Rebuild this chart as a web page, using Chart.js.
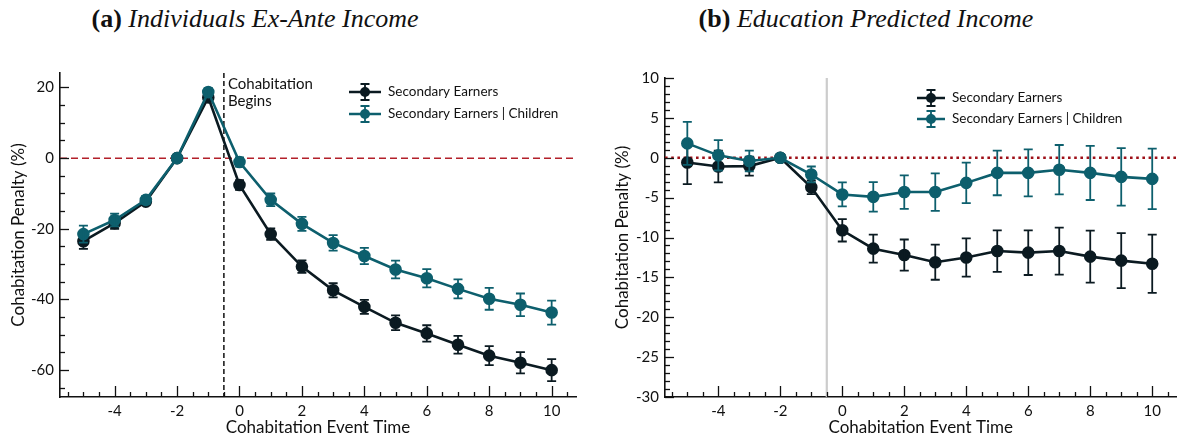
<!DOCTYPE html>
<html>
<head>
<meta charset="utf-8">
<script src="https://cdn.jsdelivr.net/npm/chart.js@4.4.1/dist/chart.umd.min.js"></script>
<style>
  html, body { margin: 0; padding: 0; background: #fff; }
  body { width: 1184px; height: 441px; position: relative; overflow: hidden; }
  canvas { position: absolute; top: 0; }
  .ttl { position: absolute; top: 4px; font-family: "Liberation Serif", serif; font-size: 26px; color: #111; text-align: center; white-space: nowrap; }
  .ttl b { font-weight: bold; font-style: normal; }
  .ttl i { font-style: italic; }
</style>
</head>
<body>
<div id="ta" class="ttl" style="left:55px;width:400px"></div>
<div id="tb" class="ttl" style="left:666px;width:400px"></div>
<canvas id="ca" width="592" height="441" style="left:0"></canvas>
<canvas id="cb" width="592" height="441" style="left:592px"></canvas>
<script>
// ---------- data ----------
const eventTime = [-5, -4, -3, -2, -1, 0, 1, 2, 3, 4, 5, 6, 7, 8, 9, 10];
const seriesLabels = ['Secondary Earners', 'Secondary Earners | Children'];

// Panel (a): Individuals Ex-Ante Income
const aSecondary    = [-23.5, -18.4, -12.3, 0, 17.2, -7.6, -21.5, -30.7, -37.4, -42.1, -46.6, -49.6, -52.8, -55.9, -57.9, -60.0];
const aSecondaryErr = [2.2, 1.6, 1.0, 0, 1.0, 1.4, 1.65, 1.75, 2.0, 2.0, 2.1, 2.3, 2.5, 2.7, 3.0, 3.1];
const aChildren     = [-21.5, -17.5, -11.8, 0, 18.7, -1.1, -11.8, -18.6, -24.0, -27.7, -31.5, -34.0, -37.0, -39.8, -41.5, -43.7];
const aChildrenErr  = [2.4, 1.8, 1.1, 0, 1.1, 1.3, 1.8, 2.0, 2.2, 2.3, 2.5, 2.6, 2.7, 3.1, 3.2, 3.4];

// Panel (b): Education Predicted Income
const bSecondary    = [-0.6, -1.1, -1.05, 0, -3.7, -9.1, -11.4, -12.2, -13.1, -12.5, -11.7, -11.9, -11.7, -12.4, -12.9, -13.3];
const bSecondaryErr = [2.7, 2.0, 1.2, 0, 0.85, 1.4, 1.75, 1.95, 2.2, 2.4, 2.6, 2.8, 2.95, 3.25, 3.45, 3.65];
const bChildren     = [1.8, 0.3, -0.4, 0, -2.1, -4.6, -4.9, -4.3, -4.3, -3.15, -1.9, -1.9, -1.5, -1.9, -2.4, -2.65];
const bChildrenErr  = [2.7, 1.9, 1.3, 0, 1.0, 1.5, 1.85, 2.1, 2.35, 2.55, 2.8, 2.95, 3.1, 3.4, 3.6, 3.8];

const xTicks  = [-4, -2, 0, 2, 4, 6, 8, 10];
const yTicksA = [-60, -40, -20, 0, 20];
const yTicksB = [-30, -25, -20, -15, -10, -5, 0, 5, 10];

const titleA = ['(a)', 'Individuals Ex-Ante Income'];
const titleB = ['(b)', 'Education Predicted Income'];
const xTitle = 'Cohabitation Event Time';
const yTitle = 'Cohabitation Penalty (%)';
const eventNote = ['Cohabitation', 'Begins'];

// ---------- style ----------
const C_BLACK = '#0b1a21';
const C_TEAL  = '#0d5f6d';
const FONT = 'Lato, "Open Sans", sans-serif';

function setTitle(id, t) {
  const el = document.getElementById(id);
  const b = document.createElement('b'); b.textContent = t[0];
  const i = document.createElement('i'); i.textContent = t[1];
  el.appendChild(b); el.appendChild(document.createTextNode(' ')); el.appendChild(i);
}
setTitle('ta', titleA);
setTitle('tb', titleB);

function pts(vals) { return eventTime.map((x, i) => ({ x: x, y: vals[i] })); }

const panelPlugin = {
  id: 'panel',
  beforeDatasetsDraw(chart, args, o) {
    const ctx = chart.ctx, ca = chart.chartArea, xs = chart.scales.x, ys = chart.scales.y;
    ctx.save();
    const vx = xs.getPixelForValue(o.eventX);
    ctx.beginPath();
    ctx.strokeStyle = o.vColor; ctx.lineWidth = o.vWidth; ctx.setLineDash(o.vDash);
    ctx.moveTo(vx, o.vTop != null ? ys.getPixelForValue(o.vTop) : ca.top);
    ctx.lineTo(vx, ca.bottom);
    ctx.stroke();
    const zy = ys.getPixelForValue(0);
    ctx.beginPath();
    ctx.strokeStyle = o.hColor; ctx.lineWidth = o.hWidth; ctx.setLineDash(o.hDash);
    ctx.moveTo(ca.left, zy); ctx.lineTo(ca.right, zy);
    ctx.stroke();
    ctx.restore();
  },
  afterDatasetDraw(chart, args, o) {
    const ds = chart.data.datasets[args.index];
    const errs = ds.errors;
    if (!errs) return;
    const ctx = chart.ctx, xs = chart.scales.x, ys = chart.scales.y;
    ctx.save();
    ctx.strokeStyle = ds.borderColor; ctx.lineWidth = 1.8; ctx.setLineDash([]);
    ds.data.forEach((p, i) => {
      const e = errs[i];
      if (!e) return;
      const px = xs.getPixelForValue(p.x);
      const y1 = ys.getPixelForValue(p.y + e), y2 = ys.getPixelForValue(p.y - e);
      ctx.beginPath();
      ctx.moveTo(px, y1); ctx.lineTo(px, y2);
      ctx.moveTo(px - 4.5, y1); ctx.lineTo(px + 4.5, y1);
      ctx.moveTo(px - 4.5, y2); ctx.lineTo(px + 4.5, y2);
      ctx.stroke();
    });
    ctx.restore();
  },
  afterDraw(chart, args, o) {
    const ctx = chart.ctx, ca = chart.chartArea, xs = chart.scales.x, ys = chart.scales.y;
    ctx.save();
    ctx.strokeStyle = '#111'; ctx.lineWidth = 1.3; ctx.setLineDash([]);
    for (let k = Math.ceil(xs.min * 2); k <= Math.floor(xs.max * 2); k++) {
      const v = k / 2;
      const px = Math.round(xs.getPixelForValue(v)) + 0.5;
      const len = xTicks.includes(v) ? 11 : 5;
      ctx.beginPath(); ctx.moveTo(px, ca.bottom); ctx.lineTo(px, ca.bottom - len); ctx.stroke();
    }
    const ms = o.yMinor;
    for (let v = Math.ceil(ys.min / ms) * ms; v <= ys.max + 1e-9; v += ms) {
      const py = Math.round(ys.getPixelForValue(v)) + 0.5;
      const len = o.yMajor.includes(v) ? 9 : 5;
      ctx.beginPath(); ctx.moveTo(ca.left, py); ctx.lineTo(ca.left + len, py); ctx.stroke();
    }
    if (o.note) {
      ctx.fillStyle = '#111'; ctx.font = '15px ' + FONT; ctx.textBaseline = 'middle'; ctx.textAlign = 'left';
      const nx = xs.getPixelForValue(o.eventX) + 4;
      o.note.forEach((t, i) => ctx.fillText(t, nx, o.noteY + i * 17));
    }
    const L = o.legend;
    chart.data.datasets.slice().sort((a, b) => a.legendIndex - b.legendIndex).forEach((ds, i) => {
      const y = L.y + i * L.gap;
      const x0 = L.x, x1 = L.x + L.w, xc = (x0 + x1) / 2;
      ctx.strokeStyle = ds.borderColor; ctx.fillStyle = ds.borderColor;
      ctx.lineWidth = 2.5;
      ctx.beginPath(); ctx.moveTo(x0, y); ctx.lineTo(x1, y); ctx.stroke();
      ctx.lineWidth = 1.8;
      ctx.beginPath();
      ctx.moveTo(xc, y - 8); ctx.lineTo(xc, y + 8);
      ctx.moveTo(xc - 4.5, y - 8); ctx.lineTo(xc + 4.5, y - 8);
      ctx.moveTo(xc - 4.5, y + 8); ctx.lineTo(xc + 4.5, y + 8);
      ctx.stroke();
      ctx.beginPath(); ctx.arc(xc, y, 5, 0, Math.PI * 2); ctx.fill();
      ctx.fillStyle = '#111'; ctx.font = '13.5px ' + FONT; ctx.textBaseline = 'middle'; ctx.textAlign = 'left';
      ctx.fillText(ds.label, x1 + 7, y);
    });
    ctx.restore();
  }
};

function makeChart(id, sec, secErr, chi, chiErr, cfg) {
  const ds = (label, vals, errs, color, order, li) => ({
    label: label, data: pts(vals), errors: errs, legendIndex: li,
    borderColor: color, backgroundColor: color, pointBackgroundColor: color, pointBorderColor: color,
    borderWidth: 2.6, pointRadius: 5, pointHoverRadius: 5, tension: 0, order: order, fill: false
  });
  return new Chart(document.getElementById(id), {
    type: 'line',
    data: { datasets: [
      ds(seriesLabels[0], sec, secErr, C_BLACK, 1, 0),
      ds(seriesLabels[1], chi, chiErr, C_TEAL, 0, 1)
    ] },
    options: {
      responsive: false, animation: false, devicePixelRatio: 1,
      layout: { padding: { top: cfg.top, right: cfg.right, left: 0, bottom: 0 } },
      plugins: { legend: { display: false }, tooltip: { enabled: false }, panel: cfg.panel },
      scales: {
        x: {
          type: 'linear', min: cfg.xMin, max: cfg.xMax,
          afterBuildTicks: s => { s.ticks = xTicks.map(v => ({ value: v })); },
          afterFit: s => { s.height = 44; },
          grid: { display: false, drawTicks: false },
          border: { display: true, color: '#111', width: 1.6 },
          ticks: { color: '#111', font: { family: FONT, size: 15 }, padding: 5, maxRotation: 0 },
          title: { display: true, text: xTitle, color: '#111', font: { family: FONT, size: 17 }, padding: { top: 0, bottom: 3 } }
        },
        y: {
          type: 'linear', min: cfg.yMin, max: cfg.yMax,
          afterBuildTicks: s => { s.ticks = cfg.yTicks.map(v => ({ value: v })); },
          afterFit: s => { s.width = cfg.yWidth; },
          grid: { display: false, drawTicks: false },
          border: { display: true, color: '#111', width: 1.6 },
          ticks: { color: '#111', font: { family: FONT, size: 15 }, padding: 6 },
          title: { display: true, text: yTitle, color: '#111', font: { family: FONT, size: 17 }, padding: { top: cfg.yTitlePad, bottom: 0 } }
        }
      }
    },
    plugins: [panelPlugin]
  });
}

makeChart('ca', aSecondary, aSecondaryErr, aChildren, aChildrenErr, {
  top: 73, right: 16, xMin: -5.75, xMax: 10.78, yMin: -67.6, yMax: 24.1, yTicks: yTicksA, yWidth: 60, yTitlePad: 8,
  panel: {
    eventX: -0.5, vColor: '#111', vWidth: 1.5, vDash: [5, 3], vTop: null,
    hColor: '#b3202a', hWidth: 1.5, hDash: [7, 4],
    yMinor: 5, yMajor: yTicksA,
    note: eventNote, noteY: 84,
    legend: { x: 349, y: 92, w: 32, gap: 22 }
  }
});

makeChart('cb', bSecondary, bSecondaryErr, bChildren, bChildrenErr, {
  top: 78, right: 2, xMin: -5.72, xMax: 10.78, yMin: -30, yMax: 10, yTicks: yTicksB, yWidth: 73, yTitlePad: 20,
  panel: {
    eventX: -0.5, vColor: '#cccccc', vWidth: 2.2, vDash: [], vTop: 10,
    hColor: '#9e1018', hWidth: 2.6, hDash: [2.6, 3.6],
    yMinor: 1, yMajor: yTicksB,
    note: null,
    legend: { x: 325, y: 98, w: 28, gap: 21 }
  }
});
</script>
</body>
</html>
